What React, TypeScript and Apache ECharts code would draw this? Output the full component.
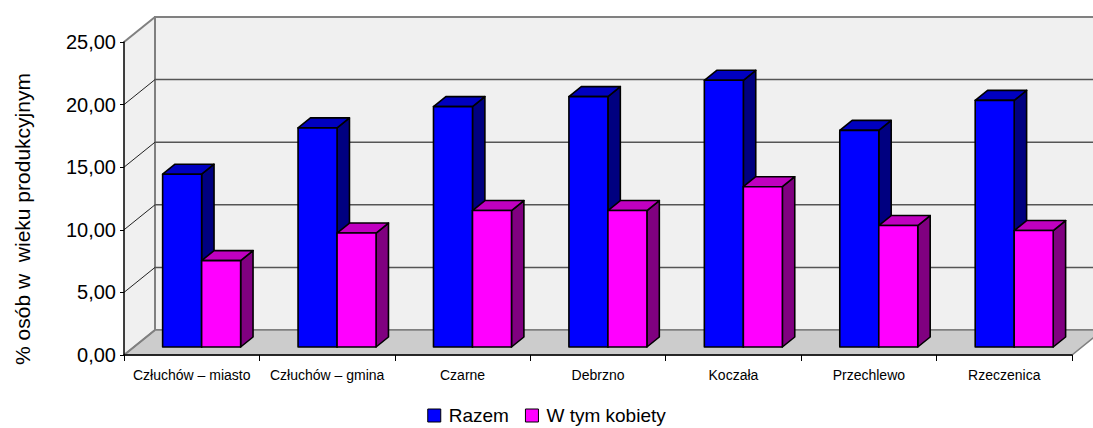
import React, { useEffect, useRef } from "react";
import * as echarts from "echarts";

const categories = [
  "Człuchów – miasto",
  "Człuchów – gmina",
  "Czarne",
  "Debrzno",
  "Koczała",
  "Przechlewo",
  "Rzeczenica",
];
const razem = [13.8, 17.5, 19.2, 20.0, 21.3, 17.3, 19.7];
const kobiety = [6.9, 9.1, 10.9, 10.9, 12.8, 9.7, 9.3];
const yTicks = [0, 5, 10, 15, 20, 25];
const seriesNames = ["Razem", "W tym kobiety"];
const axisTitle = "% osób w  wieku produkcyjnym";

const FONT = "'Liberation Sans', Arial, sans-serif";
const DX = 31;
const DY = -25;
const BAR_FRONT = 0.32;
const BAR_DEPTH = 0.4;
const BAR_W = 0.288;

const palettes = [
  { front: "#0000ff", top: "#0000c0", side: "#000080" },
  { front: "#ff00ff", top: "#c000c0", side: "#800080" },
];

function barRender(idx: number) {
  const pal = palettes[idx];
  return (params: any, api: any) => {
    const ci = api.value(0);
    const v = api.value(1);
    const base = api.coord([ci, 0]);
    const top = api.coord([ci, v]);
    const cw = api.size([1, 0])[0];
    const bw = cw * BAR_W;
    const ox = DX * BAR_FRONT;
    const oy = DY * BAR_FRONT;
    const dx = DX * BAR_DEPTH;
    const dy = DY * BAR_DEPTH;
    const x0 = base[0] + (idx === 0 ? -bw : 0) + ox;
    const x1 = x0 + bw;
    const yb = base[1] + oy;
    const yt = top[1] + oy;
    const st = { stroke: "#000", lineWidth: 1.6, lineJoin: "round" };
    return {
      type: "group",
      children: [
        {
          type: "polygon",
          shape: { points: [[x1, yt], [x1 + dx, yt + dy], [x1 + dx, yb + dy], [x1, yb]] },
          style: { fill: pal.side, ...st },
        },
        {
          type: "polygon",
          shape: { points: [[x0, yt], [x1, yt], [x1 + dx, yt + dy], [x0 + dx, yt + dy]] },
          style: { fill: pal.top, ...st },
        },
        {
          type: "rect",
          shape: { x: x0, y: yt, width: bw, height: yb - yt },
          style: { fill: pal.front, ...st },
        },
      ],
    };
  };
}

function bgRender(params: any, api: any) {
  const cs = params.coordSys;
  const left = cs.x;
  const right = cs.x + cs.width;
  const yMax = yTicks[yTicks.length - 1];
  const y0 = api.coord([0, 0])[1];
  const yT = api.coord([0, yMax])[1];
  const children: any[] = [];
  children.push({
    type: "polygon",
    shape: { points: [[left, yT], [left + DX, yT + DY], [left + DX, y0 + DY], [left, y0]] },
    style: { fill: "#f0f0f0" },
  });
  children.push({
    type: "rect",
    shape: { x: left + DX, y: yT + DY, width: right - left + 2, height: y0 - yT },
    style: { fill: "#f0f0f0", stroke: "#808080", lineWidth: 2 },
  });
  children.push({
    type: "polygon",
    shape: { points: [[left, y0], [right, y0], [right + DX, y0 + DY], [left + DX, y0 + DY]] },
    style: { fill: "#cccccc", stroke: "#808080", lineWidth: 1.5 },
  });
  yTicks.forEach((t) => {
    const y = api.coord([0, t])[1];
    if (t > 0 && t < yMax) {
      children.push({
        type: "line",
        shape: { x1: left + DX, y1: y + DY, x2: right + DX + 2, y2: y + DY },
        style: { stroke: "#555555", lineWidth: 1.5 },
      });
      children.push({
        type: "line",
        shape: { x1: left, y1: y, x2: left + DX, y2: y + DY },
        style: { stroke: "#222222", lineWidth: 1 },
      });
    } else {
      children.push({
        type: "line",
        shape: { x1: left, y1: y, x2: left + DX, y2: y + DY },
        style: { stroke: "#808080", lineWidth: 2 },
      });
    }
  });
  return { type: "group", children };
}

export default function App() {
  const ref = useRef<HTMLDivElement>(null);
  useEffect(() => {
    if (!ref.current) return;
    const chart = echarts.init(ref.current, undefined, { renderer: "svg" });
    const legendItem = (i: number) => ({
      name: seriesNames[i],
      itemStyle: { color: palettes[i].front, borderColor: "#000", borderWidth: 1 },
    });
    chart.setOption({
      animation: false,
      backgroundColor: "#ffffff",
      textStyle: { fontFamily: FONT },
      grid: { left: 124, right: 21, top: 42, bottom: 73, containLabel: false },
      legend: {
        data: [legendItem(0), legendItem(1)],
        left: "center",
        top: 401,
        icon: "rect",
        itemWidth: 13,
        itemHeight: 13,
        itemGap: 16,
        selectedMode: false,
        textStyle: { fontSize: 19, color: "#000", fontFamily: FONT, padding: [0, 0, 0, 3] },
      },
      xAxis: {
        type: "category",
        data: categories,
        z: 10,
        axisLine: { lineStyle: { color: "#000", width: 1.5 } },
        axisTick: { show: true, length: 6, lineStyle: { color: "#000", width: 1 } },
        axisLabel: { interval: 0, fontSize: 14, color: "#000", margin: 13, fontFamily: FONT },
      },
      yAxis: {
        type: "value",
        min: 0,
        max: 25,
        interval: 5,
        z: 10,
        axisLine: { show: true, lineStyle: { color: "#000", width: 1.5 } },
        axisTick: { show: true, length: 4, lineStyle: { color: "#000" } },
        splitLine: { show: false },
        axisLabel: {
          fontSize: 20,
          color: "#000",
          margin: 8,
          fontFamily: FONT,
          formatter: (v: number) => v.toFixed(2).replace(".", ","),
        },
      },
      graphic: [
        {
          type: "text",
          x: 22,
          y: 219,
          rotation: Math.PI / 2,
          style: {
            text: axisTitle,
            fontSize: 21,
            fontFamily: FONT,
            fill: "#000",
            align: "center",
            verticalAlign: "middle",
          },
        },
      ],
      series: [
        {
          type: "custom",
          name: "bg",
          z: 1,
          silent: true,
          clip: false,
          renderItem: bgRender,
          data: [[0, 0]],
        },
        {
          type: "custom",
          name: seriesNames[0],
          z: 2,
          clip: false,
          itemStyle: { color: palettes[0].front, borderColor: "#000", borderWidth: 1 },
          renderItem: barRender(0),
          data: razem.map((v, i) => [i, v]),
        },
        {
          type: "custom",
          name: seriesNames[1],
          z: 3,
          clip: false,
          itemStyle: { color: palettes[1].front, borderColor: "#000", borderWidth: 1 },
          renderItem: barRender(1),
          data: kobiety.map((v, i) => [i, v]),
        },
      ],
    });
    return () => chart.dispose();
  }, []);
  return (
    <div
      ref={ref}
      style={{ position: "fixed", left: 0, top: 0, width: 1093, height: 428 }}
    />
  );
}
